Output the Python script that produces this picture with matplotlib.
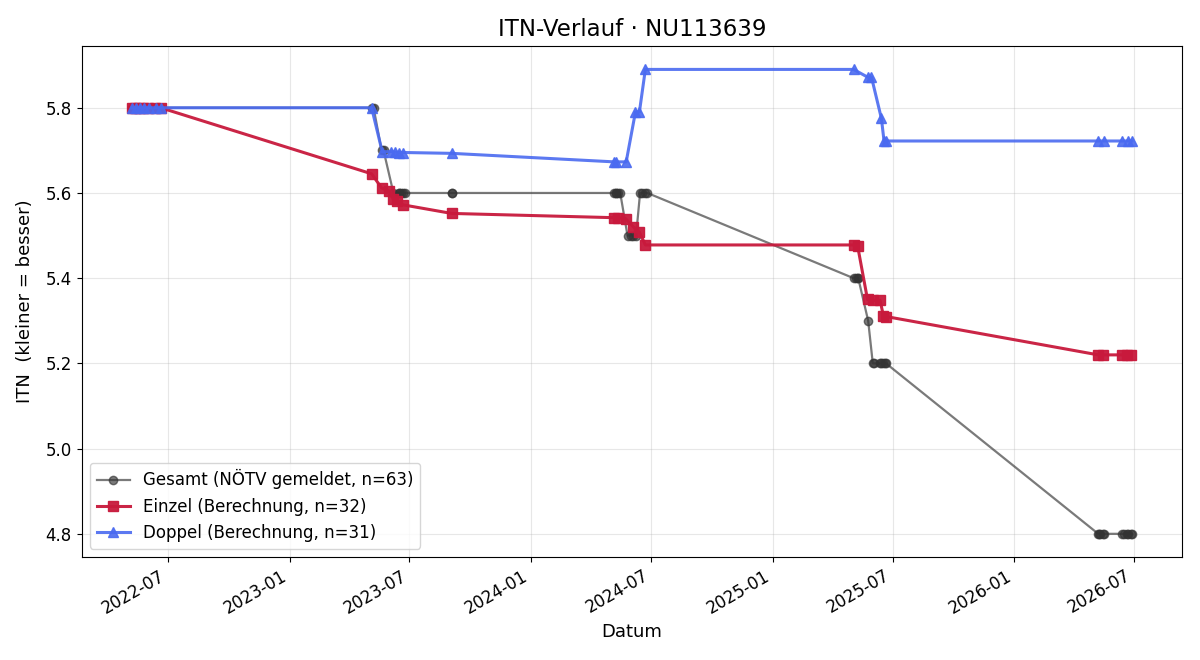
import matplotlib
matplotlib.use('Agg')
import matplotlib.pyplot as plt
import matplotlib.dates as mdates
import pandas as pd

# Gesamt (NÖTV gemeldet)
gesamt_dates = [
    '2022-05-07', '2022-05-08', '2022-05-10', '2022-05-12', '2022-05-13',
    '2022-05-16', '2022-05-18', '2022-05-23', '2022-05-27', '2022-06-01',
    '2022-06-07', '2022-06-11', '2022-06-15', '2022-06-17', '2022-06-21',
    '2023-05-05', '2023-05-08', '2023-05-20', '2023-05-23', '2023-06-07',
    '2023-06-15', '2023-06-16', '2023-06-19', '2023-06-22', '2023-06-25',
    '2023-09-03', '2023-09-04',
    '2024-05-06', '2024-05-08', '2024-05-09', '2024-05-12', '2024-05-15',
    '2024-05-26', '2024-05-31', '2024-06-04', '2024-06-08', '2024-06-14',
    '2024-06-17', '2024-06-22', '2024-06-25',
    '2025-05-03', '2025-05-06', '2025-05-09', '2025-05-10', '2025-05-25',
    '2025-06-01', '2025-06-03', '2025-06-12', '2025-06-14', '2025-06-17',
    '2025-06-20', '2025-06-21',
    '2026-05-08', '2026-05-09', '2026-05-11', '2026-05-15', '2026-05-17',
    '2026-06-13', '2026-06-16', '2026-06-20', '2026-06-22', '2026-06-26',
    '2026-06-28',
]
gesamt_itn = [
    5.8, 5.8, 5.8, 5.8, 5.8, 5.8, 5.8, 5.8, 5.8, 5.8, 5.8, 5.8, 5.8, 5.8, 5.8,
    5.8, 5.8, 5.7, 5.7, 5.6, 5.6, 5.6, 5.6, 5.6, 5.6, 5.6, 5.6,
    5.6, 5.6, 5.6, 5.6, 5.6, 5.5, 5.5, 5.5, 5.5, 5.6, 5.6, 5.6, 5.6,
    5.4, 5.4, 5.4, 5.4, 5.3, 5.2, 5.2, 5.2, 5.2, 5.2, 5.2, 5.2,
    4.8, 4.8, 4.8, 4.8, 4.8, 4.8, 4.8, 4.8, 4.8, 4.8, 4.8,
]

# Einzel (Berechnung)
einzel_dates = [
    '2022-05-07', '2022-05-12', '2022-05-18', '2022-05-24', '2022-06-01',
    '2022-06-11', '2022-06-20',
    '2023-05-05', '2023-05-20', '2023-05-31', '2023-06-07', '2023-06-12',
    '2023-06-22', '2023-09-03',
    '2024-05-06', '2024-05-12', '2024-05-23', '2024-06-04', '2024-06-13',
    '2024-06-22',
    '2025-05-03', '2025-05-09', '2025-05-24', '2025-06-01', '2025-06-12',
    '2025-06-17', '2025-06-21',
    '2026-05-08', '2026-05-15', '2026-06-13', '2026-06-20', '2026-06-26',
]
einzel_itn = [
    5.8, 5.8, 5.8, 5.8, 5.8, 5.8, 5.8,
    5.645, 5.612, 5.605, 5.585, 5.58, 5.572, 5.552,
    5.542, 5.542, 5.54, 5.52, 5.508, 5.478,
    5.478, 5.476, 5.35, 5.348, 5.348, 5.312, 5.31,
    5.22, 5.22, 5.22, 5.22, 5.22,
]

# Doppel (Berechnung)
doppel_dates = [
    '2022-05-08', '2022-05-13', '2022-05-19', '2022-05-25', '2022-06-02',
    '2022-06-13', '2022-06-21',
    '2023-05-05', '2023-05-21', '2023-06-03', '2023-06-10', '2023-06-16',
    '2023-06-22', '2023-09-03',
    '2024-05-06', '2024-05-08', '2024-05-24', '2024-06-07', '2024-06-13',
    '2024-06-22',
    '2025-05-03', '2025-05-24', '2025-05-30', '2025-06-14', '2025-06-18',
    '2025-06-21',
    '2026-05-08', '2026-05-17', '2026-06-13', '2026-06-22', '2026-06-28',
]
doppel_itn = [
    5.8, 5.8, 5.8, 5.8, 5.8, 5.8, 5.8,
    5.8, 5.697, 5.697, 5.696, 5.695, 5.695, 5.693,
    5.673, 5.673, 5.673, 5.79, 5.79, 5.89,
    5.89, 5.872, 5.872, 5.775, 5.722, 5.722,
    5.722, 5.722, 5.722, 5.722, 5.722,
]

g_x = pd.to_datetime(gesamt_dates)
e_x = pd.to_datetime(einzel_dates)
d_x = pd.to_datetime(doppel_dates)

fig, ax = plt.subplots(figsize=(12, 6.6), dpi=100)

ax.plot(g_x, gesamt_itn, color='#333333', alpha=0.65, lw=1.6, marker='o',
        ms=6, label=f'Gesamt (NÖTV gemeldet, n={len(gesamt_itn)})')
ax.plot(e_x, einzel_itn, color='#c8193c', alpha=0.95, lw=2.2, marker='s',
        ms=7, label=f'Einzel (Berechnung, n={len(einzel_itn)})')
ax.plot(d_x, doppel_itn, color='#4a6af0', alpha=0.9, lw=2.2, marker='^',
        ms=7, label=f'Doppel (Berechnung, n={len(doppel_itn)})')

ax.set_title('ITN-Verlauf · NU113639', fontsize=16.5, pad=7)
ax.set_xlabel('Datum', fontsize=13)
ax.set_ylabel('ITN  (kleiner = besser)', fontsize=13, labelpad=8)
ax.grid(True, alpha=0.3)

ax.xaxis.set_major_locator(mdates.MonthLocator(bymonth=[1, 7]))
ax.xaxis.set_major_formatter(mdates.DateFormatter('%Y-%m'))
ax.tick_params(labelsize=12)
fig.autofmt_xdate()

ax.legend(loc='lower left', fontsize=12)
fig.subplots_adjust(left=0.068, right=0.985, top=0.930, bottom=0.156)
fig.savefig('out.png')
